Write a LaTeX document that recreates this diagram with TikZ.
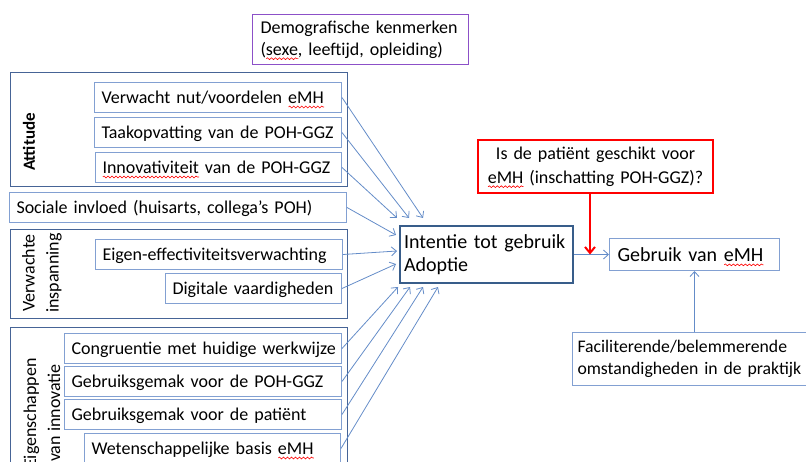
\documentclass[tikz,border=0pt]{standalone}
\usepackage{fontspec}
\setmainfont{Carlito}
\usepackage{tikz}
\usetikzlibrary{arrows.meta,positioning,decorations.pathmorphing}
\definecolor{grpblue}{RGB}{70,100,150}
\definecolor{itemblue}{RGB}{130,160,210}
\definecolor{arrblue}{RGB}{100,140,200}
\definecolor{intblue}{RGB}{56,93,138}
\definecolor{demopurple}{RGB}{140,80,200}
% red wavy line under a word
\newsavebox{\squigbox}
\newcommand{\squig}[1]{\sbox{\squigbox}{#1}\smash{\rlap{\tikz[baseline=0pt]\draw[-,red,line width=0.6pt,
  decorate,decoration={snake,amplitude=0.9pt,segment length=4pt}] (0pt,-3.5pt) -- (\wd\squigbox,-3.5pt);}}\usebox{\squigbox}}

\begin{document}
\begin{tikzpicture}[->,>={Straight Barb[length=5pt,width=9pt]},x=1pt,y=-1pt,
font=\fontsize{18}{22}\selectfont]
\tikzstyle{grp}=[draw=grpblue,line width=1pt,anchor=north west,minimum width=337pt]
\tikzstyle{grplabel}=[rotate=90,align=center,font=\fontsize{18}{24}\selectfont]
\tikzstyle{itembox}=[draw=itemblue,line width=1pt,anchor=north east,minimum height=30pt,
inner xsep=7pt,inner ysep=0pt,text height=15pt,text depth=3pt,
execute at begin node=\hbox\bgroup,execute at end node=\egroup]
\tikzstyle{box}=[line width=1pt,anchor=north west,inner xsep=8pt,align=left]
\tikzstyle{inarrow}=[draw=arrblue,line width=0.8pt]

\useasboundingbox (0,0) rectangle (806,462);
\clip (0,0) rectangle (806,462);

% groups
\node[grp,minimum height=114pt] (attgrp) at (10,72) {};
\node[grp,minimum height=89pt]  (vergrp) at (10,229) {};
\node[grp,minimum height=160pt] (eiggrp) at (10,327) {};

\node[grplabel,font=\bfseries\fontsize{17}{20}\selectfont] (attlbl) at (29,142) {Attitude};
\node[grplabel] (verlbl) at (42,273) {Verwachte\\inspanning};
\node[grplabel] (eiglbl) at (42,413) {Eigenschappen\\van innovatie};

% factors
\node[itembox,text width=233pt] (verw)  at (342,82)  {Verwacht nut/voordelen \squig{eMH}};
\node[itembox,text width=233pt] (taak)  at (342,117) {Taakopvatting van de POH-GGZ};
\node[itembox,text width=232pt] (innov) at (342,152) {\squig{Innovativiteit} van de POH-GGZ};
\node[itembox,text width=323pt] (soc)   at (347,192) {Sociale invloed (huisarts, collega’s POH)};
\node[itembox,text width=233pt] (eigen) at (343,239) {Eigen-effectiviteitsverwachting};
\node[itembox,text width=162pt] (digi)  at (342,273) {Digitale vaardigheden};
\node[itembox,text width=263pt] (congr) at (342,333) {Congruentie met huidige werkwijze};
\node[itembox,text width=263pt] (gpoh)  at (342,366) {Gebruiksgemak voor de POH-GGZ};
\node[itembox,text width=263pt] (gpat)  at (342,399) {Gebruiksgemak voor de patiënt};
\node[itembox,text width=242pt] (wet)   at (341,433) {Wetenschappelijke basis \squig{eMH}};

% model
\node[box,draw=demopurple,minimum height=50pt,text width=200pt] (demo) at (252,14)
  {Demografische kenmerken\\(\squig{sexe}, leeftijd, opleiding)};
\node[box,draw=intblue,line width=2pt,minimum width=173pt,minimum height=57pt,text width=165pt,
  inner xsep=4pt,font=\fontsize{20}{23.5}\selectfont] (intentie) at (399,225)
  {Intentie tot gebruik\\Adoptie};
\node[box,draw=itemblue,anchor=west,minimum height=32pt,text width=154pt,
  font=\fontsize{20}{24}\selectfont,right=35pt of intentie] (gebruik) {Gebruik van \squig{eMH}};
\node[box,draw=red,line width=2pt,minimum width=235pt,minimum height=53pt,text width=219pt,
  align=center,font=\fontsize{18}{24}\selectfont] (patient) at (477,139)
  {Is de patiënt geschikt voor\\\squig{eMH} (inschatting POH-GGZ)?};
\node[box,draw=itemblue,minimum height=53pt,text width=240pt,inner xsep=5pt,
  font=\fontsize{17.7}{22}\selectfont] (facil) at (572,332)
  {Faciliterende/belemmerende\\omstandigheden in de praktijk};

\foreach \src/\dx/\dy in {verw/24/-7,taak/10/-7,innov/-2/-7,soc/-3/10,eigen/-2/26,digi/-3/39}
  \draw[inarrow] (\src.east) -- ([shift={(\dx,\dy)}]intentie.north west);
\foreach \src/\dx/\dy in {congr/-1/3,gpoh/11/3,gpat/24/3,wet/39/3}
  \draw[inarrow] (\src.east) -- ([shift={(\dx,\dy)}]intentie.south west);

\draw[inarrow] (intentie.east) -- (intentie.east -| gebruik.west);
\draw[inarrow] (facil.north -| gebruik.south) -- (gebruik.south);
\coordinate (redtip) at ([xshift=16pt]intentie.east);
\draw[draw=red,line width=2pt,>={Straight Barb[length=6pt,width=10pt]}]
  (patient.south -| redtip) -- (redtip);
\end{tikzpicture}
\end{document}
